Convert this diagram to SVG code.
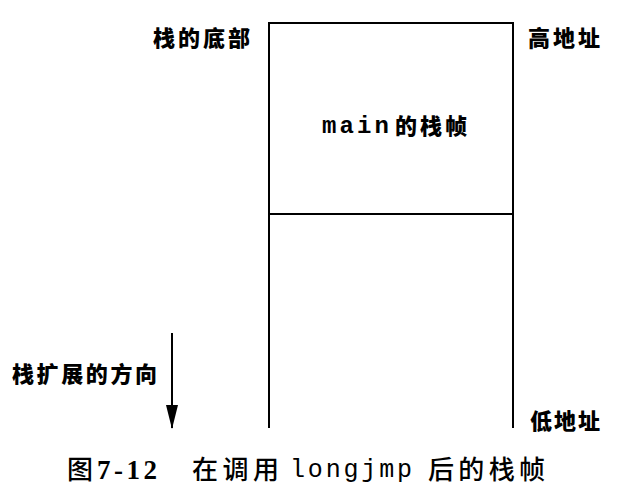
<svg xmlns="http://www.w3.org/2000/svg" width="623" height="494" viewBox="0 0 623 494">
<style>
  .cjk { font-family: "Noto Sans CJK SC", "Noto Sans", sans-serif; font-weight: 900; font-size: 22px; fill: #000; }
  .mono { font-family: "Liberation Mono", "DejaVu Sans Mono", monospace; font-weight: bold; fill: #000; }
  .cap { font-family: "Noto Sans CJK SC", "Noto Sans", sans-serif; font-weight: 500; font-size: 26px; fill: #000; }
  .capnum { font-family: "Liberation Serif", serif; font-weight: bold; font-size: 27px; fill: #000; }
  .capmono { font-family: "Liberation Mono", monospace; font-size: 25px; fill: #000; }
  .frame { fill: none; stroke: #000; stroke-width: 2; }
</style>
<defs>
  <marker id="arrowhead" markerUnits="userSpaceOnUse" markerWidth="24" markerHeight="12" refX="23" refY="6" orient="auto" viewBox="0 0 24 12">
    <polygon points="0,0 24,6 0,12" fill="#000"/>
  </marker>
</defs>
<rect width="623" height="494" fill="#fff"/>

<g id="stack">
  <path class="frame" d="M269,428 V23 H513 V428"/>
</g>
<g id="main-frame">
  <line class="frame" x1="269" y1="214" x2="513" y2="214"/>
  <text x="322" y="133" class="mono" font-size="24" textLength="67" lengthAdjust="spacing">main</text>
  <text x="395" y="134" class="cjk" textLength="72" lengthAdjust="spacing">的栈帧</text>
</g>
<g id="label-bottom">
  <text x="153" y="46" class="cjk" textLength="97" lengthAdjust="spacing">栈的底部</text>
</g>
<g id="label-high">
  <text x="528" y="46" class="cjk" textLength="72" lengthAdjust="spacing">高地址</text>
</g>
<g id="label-direction">
  <text x="12" y="382" class="cjk" textLength="145" lengthAdjust="spacing">栈扩展的方向</text>
</g>
<g id="label-low">
  <text x="530" y="429" class="cjk" textLength="70" lengthAdjust="spacing">低地址</text>
</g>

<g id="connectors">
  <line x1="172" y1="333" x2="172" y2="428" stroke="#000" stroke-width="2" marker-end="url(#arrowhead)"/>
</g>

<g id="caption">
  <text x="67" y="479" class="cap" font-size="25">图</text>
  <text x="97" y="479" class="capnum" textLength="60" lengthAdjust="spacing">7-12</text>
  <text x="192" y="479" class="cap" textLength="87" lengthAdjust="spacing">在调用</text>
  <text x="290" y="477" class="capmono" textLength="122" lengthAdjust="spacing">longjmp</text>
  <text x="428" y="479" class="cap" textLength="117" lengthAdjust="spacing">后的栈帧</text>
</g>
</svg>
